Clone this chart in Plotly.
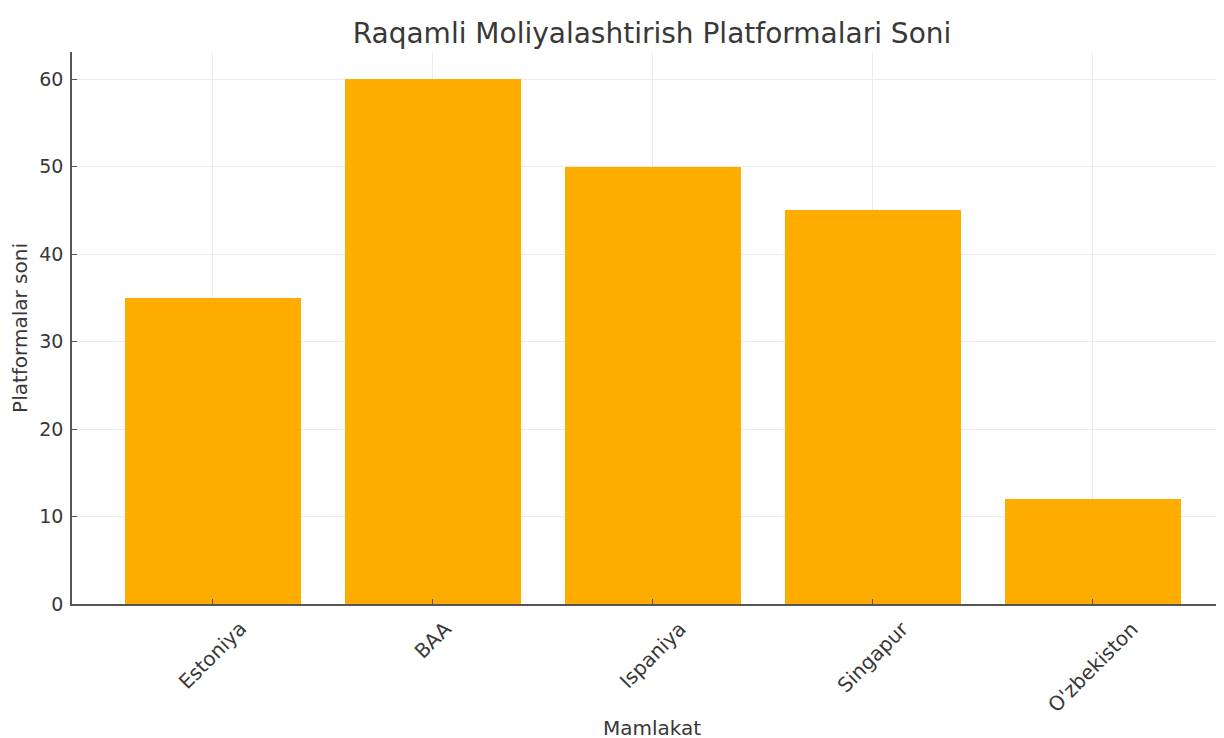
import plotly.graph_objects as go

countries = ["Estoniya", "BAA", "Ispaniya", "Singapur", "O'zbekiston"]
platforms = [35, 60, 50, 45, 12]
y_ticks = [0, 10, 20, 30, 40, 50, 60]

font = "DejaVu Sans"
txt = "#383838"
fig = go.Figure()
fig.add_trace(go.Bar(
    x=list(range(len(countries))), y=platforms,
    width=0.8, marker=dict(color="#FFAC00", line=dict(width=0)),
))

# x tick labels rotated 45 deg, centred on each tick (matplotlib style)
for i, c in enumerate(countries):
    fig.add_annotation(
        x=i, y=0, xref="x", yref="paper", text=c, showarrow=False,
        textangle=-45, xanchor="center", yanchor="top", yshift=-10,
        font=dict(size=20, family=font, color=txt),
    )
fig.add_annotation(
    x=0.5, y=0, xref="paper", yref="paper", text="Mamlakat", showarrow=False,
    xanchor="center", yanchor="middle", yshift=-124,
    font=dict(size=20, family=font, color=txt),
)

fig.update_layout(
    width=1224, height=738,
    margin=dict(l=64, r=0, t=44, b=142),
    paper_bgcolor="white", plot_bgcolor="white",
    font=dict(family=font, color=txt),
    showlegend=False,
    title=dict(text="Raqamli Moliyalashtirish Platformalari Soni",
               x=0.5, xref="paper", xanchor="center",
               y=1 - 25 / 738, yanchor="middle",
               font=dict(size=28, family=font, color=txt)),
    bargap=0,
)
fig.update_xaxes(
    range=[-0.64, 4.633],
    tickmode="array", tickvals=list(range(len(countries))),
    showticklabels=False,
    showgrid=True, gridcolor="#EBEBEB", gridwidth=1,
    showline=True, linecolor="#555555", linewidth=1.5,
    ticks="inside", ticklen=5, tickcolor="#555555",
    zeroline=False,
)
fig.update_yaxes(
    range=[0, 63.1],
    tickmode="array", tickvals=y_ticks,
    tickfont=dict(size=19, family=font, color=txt),
    ticklabelstandoff=3,
    showgrid=True, gridcolor="#EBEBEB", gridwidth=1,
    showline=True, linecolor="#555555", linewidth=1.5,
    ticks="inside", ticklen=5, tickcolor="#555555",
    title=dict(text="Platformalar soni", font=dict(size=20, family=font, color=txt), standoff=12),
    zeroline=False,
)

fig.write_html("out.html")
